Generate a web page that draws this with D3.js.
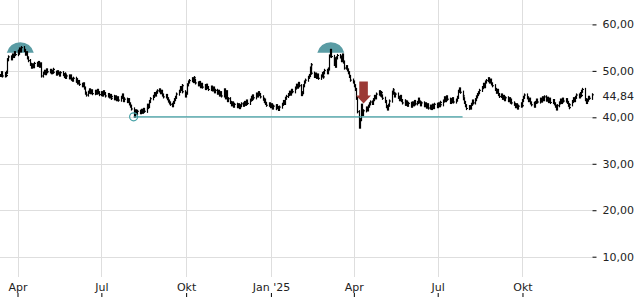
<!DOCTYPE html>
<html>
<head>
<meta charset="utf-8">
<script src="https://cdn.jsdelivr.net/npm/d3@7"></script>
<style>
  body { margin: 0; background: #fff; }
  svg { display: block; font-family: "DejaVu Sans", sans-serif; }
</style>
</head>
<body>
<div id="chart"></div>
<script>
// first trading day of the series, one close per weekday after it
const firstDay = "2024-03-13";
const closes = [
  49.0, 49.6, 48.9,
  49.4, 49.0, 49.7, 52.4, 53.0,  52.6, 53.4, 53.1, 53.9, 53.5,
  54.2, 53.8, 54.7, 54.3, 55.0,  54.4, 53.6, 53.9, 52.8, 52.2,
  51.4, 50.8, 51.3, 50.9, 51.6,  51.2, 51.8, 51.0, 51.5, 48.9,
  49.5, 49.9, 49.4, 50.2, 49.8,  50.1, 49.6, 49.9, 50.3, 49.7,
  49.3, 49.8, 49.5, 49.1, 49.6,  49.2, 48.8, 49.3, 48.6, 48.9,
  48.5, 48.9, 48.2, 48.0, 48.4,  47.8, 48.1, 47.4, 47.7, 47.1,
  46.8, 47.2, 46.3, 45.2, 44.8,  45.4, 45.9, 45.3, 45.7, 45.1,
  45.6, 45.2, 45.8, 45.3, 44.9,  45.3, 44.8, 45.5, 45.1, 44.6,
  44.9, 44.4, 44.7, 44.1, 44.5,  44.0, 44.4, 43.8, 44.2, 43.7,
  44.3, 44.8, 44.2, 43.6, 43.9,  43.4, 43.8, 42.9, 42.4, 41.8,
  40.3, 40.9, 41.4, 40.8, 41.3,  41.0, 41.5, 41.1, 41.7, 41.3,
  41.9, 42.6, 42.3, 43.4, 44.0,  44.5, 45.1, 44.8, 45.4, 45.7,
  45.9, 45.3, 45.6, 44.8, 44.4,  44.7, 44.0, 43.5, 43.1, 42.8,
  42.5, 43.2, 43.8, 44.3, 45.0,  45.6, 46.4, 46.0, 46.8, 45.5,
  44.6, 45.2, 47.0, 47.6, 47.9,  48.3, 47.7, 48.5, 47.9, 47.4,
  47.0, 47.5, 46.6, 47.1, 46.5,  46.8, 46.2, 46.9, 46.4, 46.0,
  46.5, 45.9, 46.3, 45.5, 45.8,  45.2, 45.6, 44.8, 45.3, 44.6,
  45.9, 44.2, 45.5, 43.6, 44.0,  43.2, 42.7, 43.1, 42.4, 42.8,
  42.3, 42.7, 42.1, 42.5, 42.9,  42.6, 43.2, 42.8, 43.5, 43.0,
  43.7, 44.3, 43.9, 44.6, 44.2,  45.0, 44.6, 45.3, 44.9, 44.4,
  43.9, 43.4, 43.7, 43.0, 42.6,  42.9, 42.3, 42.7, 42.0, 42.4,
  41.9, 42.5, 42.1, 41.7, 42.2,  42.8, 43.4, 43.0, 44.1, 44.5,
  44.9, 45.4, 45.0, 45.8, 45.5,  46.3, 46.9, 46.5, 47.3, 46.8,
  44.9, 45.3, 46.8, 47.6, 48.0,  48.6, 49.0, 50.6, 51.3, 49.5,
  48.8, 49.3, 48.6, 49.1, 48.4,  48.9, 49.4, 48.7, 49.6, 50.1,
  49.6, 50.4, 53.2, 54.4, 53.1,  51.4, 52.6, 51.0, 52.8, 53.3,
  53.0, 52.2, 53.4, 51.9, 50.6,  50.9, 50.2, 49.6, 48.8, 48.0,
  47.6, 46.8, 46.0, 44.1, 41.2,  37.9, 39.5, 42.6, 40.6, 41.4,
  42.0, 41.6, 42.4, 42.9, 43.3,  43.0, 43.8, 44.5, 44.2, 45.0,
  45.5, 44.8, 45.3, 44.6, 44.1,  43.4, 42.3, 41.8, 42.6, 43.5,
  45.4, 45.9, 45.2, 44.6, 45.0,  44.3, 43.8, 44.5, 43.6, 43.1,
  43.5, 42.8, 43.3, 42.6, 43.0,  42.4, 43.1, 42.7, 43.4, 42.9,
  43.2, 43.9, 43.3, 42.7, 43.1,  42.5, 42.9, 42.2, 42.7, 42.0,
  42.4, 41.9, 42.6, 42.1, 42.8,  42.3, 42.9, 42.5, 43.2, 42.7,
  43.5, 44.2, 43.6, 44.4, 43.9,  43.2, 43.8, 43.4, 44.0, 43.3,
  43.7, 44.3, 45.6, 46.1, 45.4,  44.6, 44.0, 43.2, 42.5, 41.9,
  42.3, 42.0, 42.8, 43.5, 43.1,  43.8, 44.4, 44.9, 45.3, 45.8,
  46.4, 47.1, 46.6, 47.6, 47.9,  48.3, 47.6, 48.0, 47.2, 46.8,
  46.0, 45.4, 45.8, 44.9, 44.5,  44.8, 44.1, 44.5, 43.8, 44.2,
  43.6, 44.0, 43.3, 43.7, 43.1,  42.8, 42.3, 42.7, 42.0, 42.4,
  42.9, 42.5, 43.6, 44.3, 44.8,  44.2, 43.6, 43.9, 43.1, 42.7,
  43.0, 42.4, 43.2, 43.7, 43.3,  43.9, 43.5, 44.2, 43.8, 44.4,
  43.7, 44.1, 43.4, 43.9, 43.2,  43.6, 42.9, 42.4, 41.8, 42.5,
  43.1, 43.7, 43.2, 43.9, 43.5,  43.8, 43.2, 42.6, 42.1, 42.7,
  43.4, 44.0, 43.6, 44.3, 44.8,  44.4, 45.1, 44.7, 45.6, 46.0,
  43.8, 43.2, 43.7, 44.3, 44.1,
  44.84
];
const lastValue = 44.84;

const yTicks = [10, 20, 30, 40, 50, 60];
const xTickDates = ["2024-04-01", "2024-07-01", "2024-10-01", "2025-01-01", "2025-04-01", "2025-07-01", "2025-10-01"];
const xTickLabels = ["Apr", "Jul", "Okt", "Jan '25", "Apr", "Jul", "Okt"];

// markers drawn on top of the price
const peakDates = ["2024-04-04", "2025-03-07"];
const peakValues = [53.9, 53.9];
const signalDates = ["2025-04-11"];
const signalValues = [43.0];
const supportDates = ["2024-08-05", "2025-07-28"];
const supportValue = 40.1;

const width = 640;
const height = 300;
const plotRight = 592.5;

const parse = d3.utcParse("%Y-%m-%d");
const de = d3.formatLocale({ decimal: ",", thousands: ".", grouping: [3], currency: ["", " €"] });
const fmt = de.format(".2f");

const days = d3.utcDay.range(parse(firstDay), parse("2026-01-01"))
  .filter(d => d.getUTCDay() !== 0 && d.getUTCDay() !== 6)
  .slice(0, closes.length);

const x = d3.scaleUtc()
  .domain([parse("2024-03-13"), parse("2025-12-16")])
  .range([0, plotRight]);

const y = d3.scaleLinear()
  .domain([10, 60])
  .range([256.7, 24.4]);

const svg = d3.select('#chart')
  .append('svg')
  .attr('width', width)
  .attr('height', height);

// gridlines
svg.append('g')
  .selectAll('line')
  .data(yTicks)
  .join('line')
  .attr('x1', 0)
  .attr('x2', plotRight)
  .attr('y1', d => Math.round(y(d)) + 0.5)
  .attr('y2', d => Math.round(y(d)) + 0.5)
  .attr('stroke', '#dedede');

svg.append('g')
  .selectAll('line')
  .data(xTickDates.map(parse))
  .join('line')
  .attr('x1', d => Math.round(x(d)) + 0.5)
  .attr('x2', d => Math.round(x(d)) + 0.5)
  .attr('y1', 0)
  .attr('y2', 277)
  .attr('stroke', '#dedede');

// peak domes (behind the price)
svg.append('g')
  .selectAll('path')
  .data(peakDates.map((d, i) => [parse(d), peakValues[i]]))
  .join('path')
  .attr('d', d => {
    const cx = x(d[0]), base = y(d[1]);
    return `M${cx - 13.5},${base} A13.9,13.9 0 0 1 ${cx + 13.5},${base} Z`;
  })
  .attr('fill', '#5a9ca4');

// daily bars
const bars = days.map((d, i) => {
  const open = i ? closes[i - 1] : closes[i];
  return { date: d, open: open, close: closes[i] };
});

const barGroup = svg.append('g').attr('stroke', '#000');
barGroup.selectAll('line.hl')
  .data(bars)
  .join('line')
  .attr('class', 'hl')
  .attr('x1', d => Math.round(x(d.date)) + 0.5)
  .attr('x2', d => Math.round(x(d.date)) + 0.5)
  .attr('y1', d => y(Math.max(d.open, d.close)) - 1.6)
  .attr('y2', d => y(Math.min(d.open, d.close)) + 1.6)
  .attr('stroke-width', 1.2);

barGroup.selectAll('line.c')
  .data(bars)
  .join('line')
  .attr('class', 'c')
  .attr('x1', d => Math.round(x(d.date)) + 0.5)
  .attr('x2', d => Math.round(x(d.date)) + 2)
  .attr('y1', d => y(d.close))
  .attr('y2', d => y(d.close))
  .attr('stroke-width', 1);

// support line with circle
const s0 = parse(supportDates[0]);
const s1 = parse(supportDates[1]);
svg.append('line')
  .attr('x1', x(s0))
  .attr('x2', x(s1))
  .attr('y1', y(supportValue))
  .attr('y2', y(supportValue))
  .attr('stroke', '#43a0a5')
  .attr('stroke-width', 1.2);

svg.append('circle')
  .attr('cx', x(s0))
  .attr('cy', y(supportValue))
  .attr('r', 4)
  .attr('fill', 'none')
  .attr('stroke', '#43a0a5')
  .attr('stroke-width', 1.2);

// sell arrow
svg.append('g')
  .selectAll('path')
  .data(signalDates.map((d, i) => [parse(d), signalValues[i]]))
  .join('path')
  .attr('d', d => {
    const cx = x(d[0]) + 0.5, tip = y(d[1]);
    return `M${cx - 4.3},${tip - 22} H${cx + 4.3} V${tip - 8} H${cx + 7.5} L${cx},${tip} L${cx - 7.5},${tip - 8} H${cx - 4.3} Z`;
  })
  .attr('fill', '#9b3a36');

// right axis
const yAxis = svg.append('g')
  .attr('transform', `translate(${plotRight},0)`)
  .call(d3.axisRight(y).tickValues(yTicks).tickSize(4).tickPadding(6).tickFormat(fmt));
yAxis.select('.domain').remove();
yAxis.selectAll('line').attr('stroke', '#000');
yAxis.selectAll('text').attr('font-size', '11px').attr('fill', '#222')
  .attr('font-family', '"DejaVu Sans", sans-serif');

svg.append('text')
  .attr('x', plotRight + 10)
  .attr('y', y(lastValue) + 1.5)
  .attr('dy', '0.32em')
  .attr('font-size', '11px')
  .attr('fill', '#222')
  .text(fmt(lastValue));

// bottom axis: labels sit above small tick marks
const xAxis = svg.append('g')
  .attr('transform', 'translate(0,297)')
  .call(d3.axisTop(x)
    .tickValues(xTickDates.map(parse))
    .tickSize(4)
    .tickPadding(2)
    .tickFormat((d, i) => xTickLabels[i]));
xAxis.select('.domain').remove();
xAxis.selectAll('line').attr('stroke', '#000');
xAxis.selectAll('text').attr('font-size', '11px').attr('fill', '#222')
  .attr('font-family', '"DejaVu Sans", sans-serif');
</script>
</body>
</html>
